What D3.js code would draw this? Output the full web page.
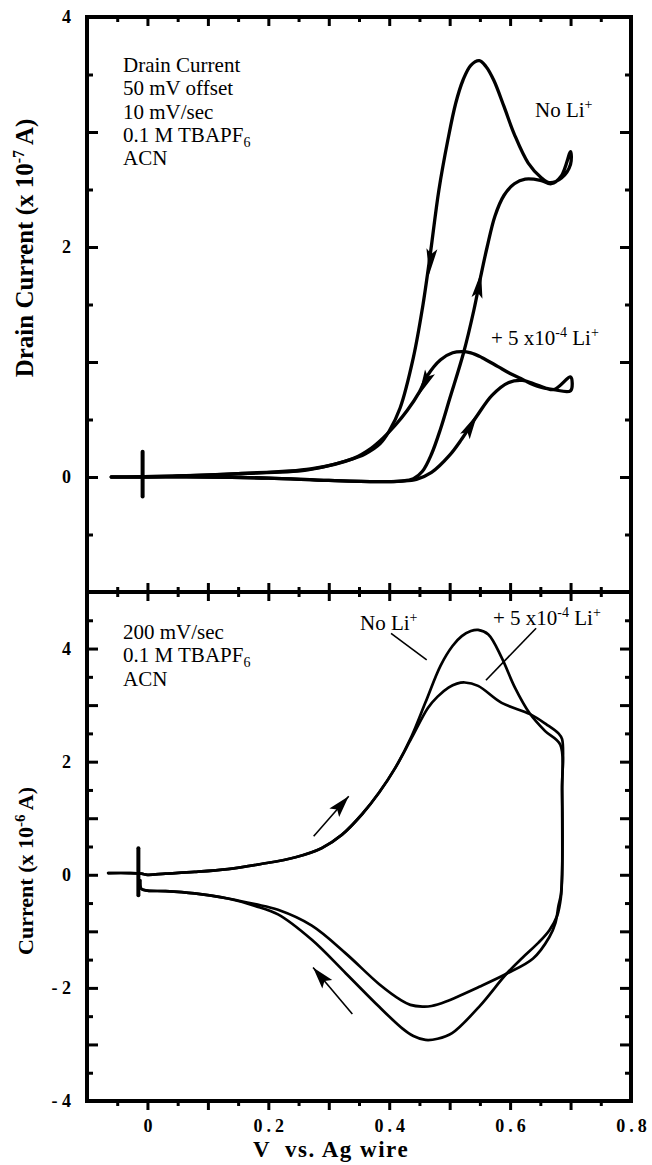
<!DOCTYPE html>
<html><head><meta charset="utf-8">
<script src="https://cdn.jsdelivr.net/npm/d3@7"></script>
<style>
body{margin:0;background:#fff;}
svg{display:block;}
text{font-family:"Liberation Serif","Times New Roman",serif;fill:#000;}
</style></head>
<body>
<svg id="c" width="652" height="1165"></svg>
<script>
// ---------- DATA ----------
// Top panel: drain current (x 1e-7 A) vs V, 10 mV/sec
const topNoLi = [[-0.06,0],[0.0,0.0],[0.1,0.0],[0.2,-0.01],[0.3,-0.03],[0.38,-0.04],[0.42,-0.035],[0.44,-0.015],[0.455,0.05],[0.47,0.2],[0.485,0.42],[0.5,0.68],[0.523,1.08],[0.54,1.45],[0.552,1.76],[0.562,2.0],[0.575,2.27],[0.59,2.45],[0.607,2.55],[0.625,2.59],[0.65,2.58],[0.668,2.55],[0.685,2.62],[0.70,2.83],[0.70,2.72],[0.685,2.6],[0.665,2.56],[0.652,2.6],[0.63,2.73],[0.607,2.98],[0.59,3.22],[0.573,3.45],[0.56,3.57],[0.549,3.62],[0.535,3.58],[0.522,3.45],[0.51,3.25],[0.497,2.93],[0.482,2.49],[0.468,1.94],[0.455,1.47],[0.44,1.04],[0.418,0.6],[0.4,0.4],[0.385,0.29],[0.36,0.2],[0.335,0.15],[0.263,0.06],[0.15,0.03],[0.05,0.01],[-0.05,0.0]];
const topLi = [[-0.06,0],[0.0,0.0],[0.1,0.0],[0.2,-0.01],[0.3,-0.03],[0.38,-0.04],[0.42,-0.035],[0.445,-0.02],[0.47,0.04],[0.5,0.19],[0.52,0.33],[0.545,0.53],[0.57,0.71],[0.597,0.82],[0.62,0.84],[0.645,0.8],[0.672,0.76],[0.70,0.87],[0.70,0.75],[0.672,0.76],[0.645,0.79],[0.62,0.85],[0.6,0.9],[0.58,0.96],[0.553,1.04],[0.535,1.08],[0.52,1.09],[0.505,1.08],[0.485,1.02],[0.463,0.88],[0.45,0.74],[0.43,0.58],[0.41,0.45],[0.39,0.34],[0.37,0.25],[0.34,0.16],[0.27,0.07],[0.15,0.03],[0.05,0.01],[-0.05,0]];
// arrowheads on the top curves: [tipX, tipY, backX, backY]
const topArrows = [[0.466,1.76,0.474,2.15],[0.552,1.78,0.542,1.45],[0.449,0.71,0.468,0.92],[0.546,0.55,0.526,0.36]];
// start marker (cross) top: [x, yLow, yHigh]
const topMarker = [-0.008,-0.17,0.22];

// Bottom panel: current (x 1e-6 A) vs V, 200 mV/sec
const botNoLi = [[-0.065,0.03],[-0.03,0.03],[-0.01,0.02],[0.0,0.0],[0.03,0.02],[0.078,0.05],[0.133,0.1],[0.188,0.19],[0.245,0.31],[0.288,0.47],[0.322,0.71],[0.355,1.07],[0.383,1.45],[0.41,1.89],[0.437,2.45],[0.46,3.05],[0.485,3.7],[0.505,4.05],[0.52,4.22],[0.535,4.31],[0.547,4.33],[0.564,4.25],[0.586,3.84],[0.608,3.31],[0.632,2.86],[0.658,2.54],[0.683,2.3],[0.686,1.5],[0.686,0.0],[0.684,-0.4],[0.678,-0.72],[0.665,-0.98],[0.647,-1.2],[0.62,-1.47],[0.594,-1.75],[0.549,-2.33],[0.504,-2.8],[0.48,-2.9],[0.46,-2.92],[0.44,-2.85],[0.422,-2.72],[0.383,-2.33],[0.328,-1.74],[0.272,-1.15],[0.216,-0.7],[0.178,-0.55],[0.133,-0.42],[0.078,-0.33],[0.03,-0.29],[0.0,-0.28],[-0.01,-0.25],[-0.012,-0.1]];
const botLi = [[-0.065,0.03],[-0.03,0.03],[-0.01,0.02],[0.0,0.0],[0.03,0.02],[0.078,0.05],[0.133,0.1],[0.188,0.19],[0.245,0.31],[0.288,0.47],[0.322,0.71],[0.355,1.07],[0.383,1.45],[0.41,1.89],[0.437,2.42],[0.464,2.95],[0.48,3.15],[0.498,3.31],[0.512,3.38],[0.525,3.4],[0.547,3.34],[0.586,3.04],[0.633,2.84],[0.66,2.66],[0.68,2.5],[0.686,2.4],[0.686,1.5],[0.686,0.0],[0.684,-0.35],[0.68,-0.55],[0.675,-0.85],[0.665,-1.1],[0.638,-1.48],[0.594,-1.75],[0.549,-1.98],[0.494,-2.24],[0.47,-2.32],[0.455,-2.33],[0.435,-2.3],[0.42,-2.22],[0.383,-1.93],[0.328,-1.39],[0.272,-0.9],[0.216,-0.62],[0.178,-0.52],[0.133,-0.42],[0.078,-0.33],[0.03,-0.29],[0.0,-0.28],[-0.01,-0.25],[-0.012,-0.1]];
// free arrows bottom: [fromX, fromY, toX, toY]
const botArrows = [[0.275,0.68,0.333,1.39],[0.339,-2.46,0.274,-1.64]];
// leader lines bottom: [x1,y1,x2,y2]
const botLeaders = [[0.403,4.27,0.462,3.8],[0.643,4.36,0.56,3.44]];
const botMarker = [-0.015,-0.36,0.47];

// axes
const xDomain = [-0.1, 0.8];
const xMajor = [-0.1,0,0.1,0.2,0.3,0.4,0.5,0.6,0.7,0.8];
const xMinor = [-0.05,0.05,0.15,0.25,0.35,0.45,0.55,0.65,0.75];
const xLabels = [0,0.2,0.4,0.6,0.8];
const yTopDomain = [-1, 4];
const yTopMajor = [-1,0,1,2,3,4];
const yTopMinor = [-0.5,0.5,1.5,2.5,3.5];
const yTopLabels = [0,2,4];
const yBotDomain = [-4, 5];
const yBotMajor = [-4,-3,-2,-1,0,1,2,3,4,5];
const yBotMinor = [-3.5,-2.5,-1.5,-0.5,0.5,1.5,2.5,3.5,4.5];
const yBotLabels = [-4,-2,0,2,4];

// ---------- DRAW ----------
const svg = d3.select("#c");
const L=87, R=631, T=17, M=592, B=1101;
const x = d3.scaleLinear(xDomain,[L,R]);
const yT = d3.scaleLinear(yTopDomain,[M,T]);
const yB = d3.scaleLinear(yBotDomain,[B,M]);

function lineGen(ys){ return d3.line().x(d=>x(d[0])).y(d=>ys(d[1])).curve(d3.curveCatmullRom.alpha(0.5)); }
function fmtY(v){ return v<0 ? "- "+Math.abs(v) : String(v); }

function yTicks(ys, major, minor, labels){
  const gl = svg.append("g").attr("transform",`translate(${L},0)`);
  gl.call(d3.axisLeft(ys).tickValues(major).tickSizeInner(-11).tickSizeOuter(0).tickPadding(16)
    .tickFormat(v=>labels.includes(v)?fmtY(v):""));
  gl.append("g").call(d3.axisLeft(ys).tickValues(minor).tickSizeInner(-6).tickSizeOuter(0).tickFormat(""));
  const gr = svg.append("g").attr("transform",`translate(${R},0)`);
  gr.call(d3.axisRight(ys).tickValues(major).tickSizeInner(-11).tickSizeOuter(0).tickFormat(""));
  gr.append("g").call(d3.axisRight(ys).tickValues(minor).tickSizeInner(-6).tickSizeOuter(0).tickFormat(""));
}
yTicks(yT, yTopMajor.filter(v=>v>-1&&v<4).concat([4]), yTopMinor, yTopLabels);
yTicks(yB, yBotMajor.filter(v=>v>-4&&v<5).concat([-4]), yBotMinor, yBotLabels);

function xTicksAt(yPos, dir, both){
  const g = svg.append("g").attr("transform",`translate(0,${yPos})`);
  const ax = dir==="down" ? d3.axisBottom : d3.axisTop;
  const xm = xMajor.filter(v=>v>-0.1&&v<0.8);
  g.append("g").call(ax(x).tickValues(xm).tickSizeInner(-9).tickSizeOuter(0).tickFormat(""));
  g.append("g").call(ax(x).tickValues(xMinor).tickSizeInner(-5).tickSizeOuter(0).tickFormat(""));
  if(both){
    const ax2 = dir==="down" ? d3.axisTop : d3.axisBottom;
    g.append("g").call(ax2(x).tickValues(xm).tickSizeInner(-9).tickSizeOuter(0).tickFormat(""));
    g.append("g").call(ax2(x).tickValues(xMinor).tickSizeInner(-5).tickSizeOuter(0).tickFormat(""));
  }
}
xTicksAt(T,"top");
xTicksAt(M,"top",true);
xTicksAt(B,"bottom");
const gxl = svg.append("g").attr("transform",`translate(0,${B})`);
gxl.call(d3.axisBottom(x).tickValues(xLabels).tickSize(0).tickPadding(18).tickFormat(d=>d===0?"0":d3.format(".1f")(d)));
gxl.selectAll("text").attr("letter-spacing",d=>d===0?0:4).attr("dx",d=>d===0?0:2);

svg.selectAll(".domain").remove();
svg.selectAll(".tick line").attr("stroke","#000").attr("stroke-width",3);
svg.selectAll(".tick text").attr("font-family","Liberation Serif").attr("font-weight","bold").attr("font-size",18).attr("fill","#000");

svg.append("rect").attr("x",L).attr("y",T).attr("width",R-L).attr("height",B-T)
  .attr("fill","none").attr("stroke","#000").attr("stroke-width",4);
svg.append("line").attr("x1",L).attr("x2",R).attr("y1",M).attr("y2",M).attr("stroke","#000").attr("stroke-width",4);

const gc = svg.append("g").attr("fill","none").attr("stroke","#000").attr("stroke-linejoin","round").attr("stroke-linecap","round");
gc.append("path").attr("d",lineGen(yT)(topNoLi)).attr("stroke-width",3.3);
gc.append("path").attr("d",lineGen(yT)(topLi)).attr("stroke-width",3.3);
gc.append("path").attr("d",lineGen(yB)(botNoLi)).attr("stroke-width",2.7);
gc.append("path").attr("d",lineGen(yB)(botLi)).attr("stroke-width",2.7);

[[topMarker,yT],[botMarker,yB]].forEach(([m,ys])=>{
  svg.append("line").attr("x1",x(m[0])).attr("x2",x(m[0])).attr("y1",ys(m[1])).attr("y2",ys(m[2]))
    .attr("stroke","#000").attr("stroke-width",4).attr("stroke-linecap","round");
});

function arrowHead(tx,ty,bx,by,len,hw){
  const dx=tx-bx, dy=ty-by, d=Math.hypot(dx,dy), ux=dx/d, uy=dy/d;
  const px=-uy, py=ux;
  const baseX=tx-ux*len, baseY=ty-uy*len;
  const notchX=tx-ux*len*0.8, notchY=ty-uy*len*0.8;
  return `M${tx},${ty}L${baseX+px*hw},${baseY+py*hw}L${notchX},${notchY}L${baseX-px*hw},${baseY-py*hw}Z`;
}
topArrows.forEach(a=>{
  svg.append("path").attr("d",arrowHead(x(a[0]),yT(a[1]),x(a[2]),yT(a[3]),26,5.5)).attr("fill","#000");
});
botArrows.forEach(a=>{
  const x1=x(a[0]),y1=yB(a[1]),x2=x(a[2]),y2=yB(a[3]);
  svg.append("line").attr("x1",x1).attr("y1",y1).attr("x2",x2).attr("y2",y2).attr("stroke","#000").attr("stroke-width",1.6);
  svg.append("path").attr("d",arrowHead(x2,y2,x1,y1,22,6.5)).attr("fill","#000");
});
botLeaders.forEach(a=>{
  svg.append("line").attr("x1",x(a[0])).attr("y1",yB(a[1])).attr("x2",x(a[2])).attr("y2",yB(a[3])).attr("stroke","#000").attr("stroke-width",1.6);
});

// ---------- TEXT ----------
const FS = 21;
function block(lines, x0, y0, dy){
  lines.forEach((ln,i)=>{
    const t = svg.append("text").attr("x",x0).attr("y",y0+i*dy).attr("font-size",FS);
    ln.forEach(p=>{
      const s = t.append("tspan").text(p.t);
      if(p.sub){ s.attr("font-size",14).attr("dy",5); }
      if(p.sup){ s.attr("font-size",14).attr("dy",-8); }
      if(p.reset){ s.attr("dy",p.reset); }
    });
  });
}
block([[{t:"Drain Current"}],[{t:"50 mV offset"}],[{t:"10 mV/sec"}],[{t:"0.1 M TBAPF"},{t:"6",sub:true}],[{t:"ACN"}]],123,72,23.3);
block([[{t:"200 mV/sec"}],[{t:"0.1 M TBAPF"},{t:"6",sub:true}],[{t:"ACN"}]],123,639,23.3);
block([[{t:"No Li"},{t:"+",sup:true}]],535,117,0);
block([[{t:"+ 5 x10"},{t:"-4",sup:true},{t:" Li",reset:8},{t:"+",sup:true}]],491,345,0);
block([[{t:"No Li"},{t:"+",sup:true}]],360,630,0);
block([[{t:"+ 5 x10"},{t:"-4",sup:true},{t:" Li",reset:8},{t:"+",sup:true}]],493,625,0);

function ytitle(cx, cy, fs){
  return svg.append("text").attr("transform",`translate(${cx},${cy}) rotate(-90)`)
    .attr("text-anchor","middle").attr("font-weight","bold").attr("font-size",fs);
}
const t1 = ytitle(33,248,25);
t1.append("tspan").text("Drain Current (x 10");
t1.append("tspan").text("-7").attr("font-size",16).attr("dy",-9);
t1.append("tspan").text(" A)").attr("dy",9);
const t2 = ytitle(33,871,22);
t2.append("tspan").text("Current (x 10");
t2.append("tspan").text("-6").attr("font-size",15).attr("dy",-8);
t2.append("tspan").text(" A)").attr("dy",8);
svg.append("text").attr("x",331).attr("y",1157).attr("text-anchor","middle").attr("font-weight","bold").attr("font-size",23)
  .attr("letter-spacing",1.5).attr("xml:space","preserve").text("V  vs. Ag wire");
</script>
</body></html>
